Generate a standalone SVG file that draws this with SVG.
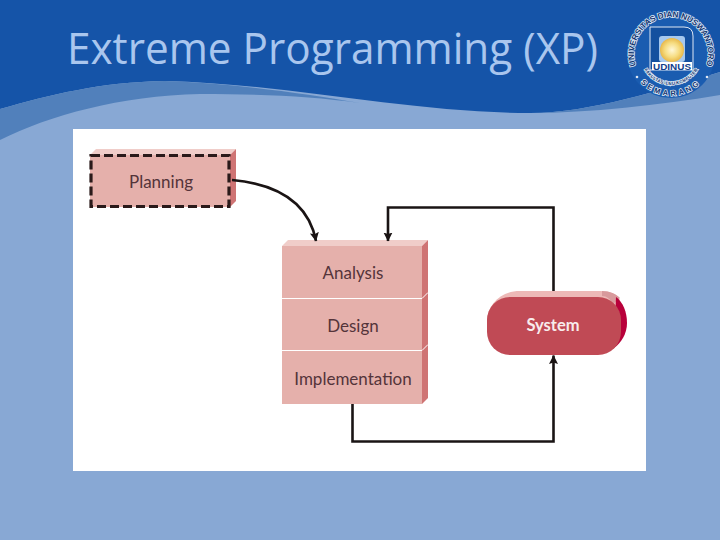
<svg xmlns="http://www.w3.org/2000/svg" width="720" height="540" viewBox="0 0 720 540">
<style>
.lbl{font-family:"Lato","Liberation Sans",sans-serif;font-size:17px;fill:#54343a;text-anchor:middle}
.face{fill:#e5b0ab}.top{fill:#f0cdc9}.side{fill:#cf7474}
.conn{fill:none;stroke:#1a1414;stroke-width:2.6}
.ring{font-family:"Liberation Sans",sans-serif;font-weight:bold;fill:#14366f;stroke:#dfe8f5;stroke-width:1.5;paint-order:stroke}
</style>
<defs>
<marker id="arr" markerUnits="userSpaceOnUse" markerWidth="10" markerHeight="10" refX="8.500" refY="4.500" orient="auto"><path d="M0 0L9 4.500L0 9L1.500 4.500Z" fill="#1a1414"/></marker>
<radialGradient id="sun"><stop offset="0" stop-color="#fff8d8"/><stop offset="0.6" stop-color="#f6dc80"/><stop offset="1" stop-color="#e8b84a"/></radialGradient>
<path id="r1" d="M636.200 66.700A37 37 0 1 1 705.800 66.700"/>
<path id="r2" d="M642 65A31 31 0 0 0 700 65"/>
<path id="r3" d="M631.500 68A42 42 0 0 0 710.500 68"/>
</defs>
<rect width="720" height="540" fill="#88a8d4"/>
<path d="M0 0H720V72C660 90 590 113 530 113C410 113 290 84 165 81C100 82 50 95 0 109Z" fill="#1554a8"/>
<path d="M0 109C50 95 100 82 165 81C230 83 300 93 360 103C310 96 260 94 200 94C120 96 50 115 0 140Z" fill="#5180bb"/>
<path d="M530 113C590 113 660 90 720 72V95C660 105 590 113 530 113Z" fill="#5180bb"/>
<text x="67" y="64" font-family="'Open Sans','Liberation Sans',sans-serif" font-size="43" fill="#a9c6ee" textLength="531" lengthAdjust="spacingAndGlyphs">Extreme Programming (XP)</text>
<g id="logo">
<circle cx="671" cy="54" r="44" fill="#1a5cb0"/>
<text class="ring" font-size="8.200"><textPath href="#r1" startOffset="50%" text-anchor="middle">UNIVERSITAS DIAN NUSWANTORO</textPath></text>
<text class="ring" font-size="4.600" stroke-width="1"><textPath href="#r2" startOffset="50%" text-anchor="middle">FAKULTAS ILMU KOMPUTER</textPath></text>
<text class="ring" font-size="7.500" letter-spacing="3"><textPath href="#r3" startOffset="50%" text-anchor="middle">SEMARANG</textPath></text>
<circle cx="637" cy="77" r="1.300" fill="#dfe8f5"/>
<circle cx="707" cy="77" r="1.300" fill="#dfe8f5"/>
<path d="M650 27H684Q693 27 693 36V70H650Z" fill="#14509f" stroke="#dfe8f5" stroke-width="1"/>
<rect x="659" y="36" width="26" height="26" rx="3" fill="#a6c8ee"/>
<circle cx="672" cy="50" r="12" fill="url(#sun)"/>
<rect x="652" y="62" width="40" height="8" fill="#fff"/>
<text x="672" y="69.500" font-family="'Liberation Sans',sans-serif" font-weight="bold" font-size="8.500" fill="#123f8c" text-anchor="middle" textLength="38" lengthAdjust="spacingAndGlyphs">UDINUS</text>
</g>
<rect x="73" y="129" width="573" height="342" fill="#fff"/>
<g id="planning">
<path class="top" d="M90 155L96 149H236L230 155Z"/>
<path class="side" d="M230 155L236 149V201L230 207Z"/>
<rect class="face" x="90" y="155" width="140" height="52"/>
<rect x="91" y="155.500" width="138" height="51" fill="none" stroke="#2a1a1a" stroke-width="3.200" stroke-dasharray="9 4"/>
<text class="lbl" x="161" y="188">Planning</text>
</g>
<g id="stack">
<path class="top" d="M282 246L288 240H428L422 246Z"/>
<path class="side" d="M422 246L428 240V398L422 404Z"/>
<rect class="face" x="282" y="246" width="140" height="158"/>
<path d="M282 298.500H422L428 292.500M282 350.500H422L428 344.500" fill="none" stroke="#fff" stroke-width="1"/>
</g>
<g id="analysis"><text class="lbl" x="353" y="279">Analysis</text></g>
<g id="design"><text class="lbl" x="353" y="332">Design</text></g>
<g id="implementation"><text class="lbl" x="353" y="385">Implementation</text></g>
<g id="system">
<path d="M487 320C488 305 500 291 520 291H600C610 291 617 294 620 300L610 330Z" fill="#edb9b7"/>
<path d="M602 291C610 291 616 294 620 298L613 304C610 299 607 296 602 296Z" fill="#d89a9c"/>
<path d="M616 297C623 302 627 312 627 323C627 334 621 343 614 348Z" fill="#b8003a"/>
<rect x="487" y="297" width="134" height="58" rx="23" fill="#c04a55"/>
<text x="553" y="331" font-family="Lato,'Liberation Sans',sans-serif" font-weight="bold" font-size="16.500" fill="#f8ecec" text-anchor="middle">System</text>
</g>
<g id="connectors">
<path class="conn" d="M232 180C275 184 308 200 316 241" marker-end="url(#arr)"/>
<path class="conn" d="M553.500 291V207.500H388V241" marker-end="url(#arr)"/>
<path class="conn" d="M352.500 404V441.500H553.500V355.500" marker-end="url(#arr)"/>
</g>
</svg>
